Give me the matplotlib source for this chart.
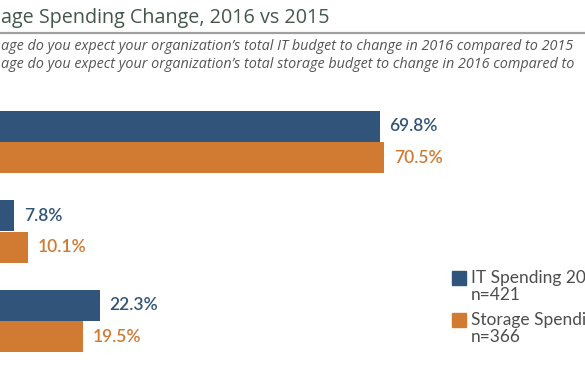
import matplotlib.pyplot as plt
from matplotlib.patches import Rectangle

# values (groups top to bottom)
groups = ['Increase', 'Stay the same', 'Decrease']
it_spend = [69.8, 7.8, 22.3]
storage_spend = [70.5, 10.1, 19.5]
# the reference is cropped on both sides, so only the visible text is kept
title = 'age Spending Change, 2016 vs 2015'
questions = ["age do you expect your organization\u2019s total IT budget to change in 2016 compared to 2015",
             "age do you expect your organization\u2019s total storage budget to change in 2016 compared to"]
legend_labels = ['IT Spending 20\nn=421', 'Storage Spendi\nn=366']

blue = '#31547a'
orange = '#d07a32'
W, H = 585, 376

fig = plt.figure(figsize=(W / 100, H / 100), dpi=100)

# axes: zero of the x scale sits just off the left edge of the picture
px_per_pct = 5.9
x0 = -32
ax = fig.add_axes([x0 / W, 0, 100 * px_per_pct / W, 1])
ax.set_xlim(0, 100)
# groups 89.5 px apart, first group centred at 142 px from top
step = 89.5
ax.set_ylim((H - 142) / step, -142 / step)
ax.axis('off')

h = 0.342
off = 0.176
ys = list(range(len(groups)))
ax.barh([y - off for y in ys], it_spend, height=h, color=blue)
ax.barh([y + off for y in ys], storage_spend, height=h, color=orange)

lab_font = {'family': 'Lato', 'size': 12.5, 'weight': 'semibold'}
for y, v in zip(ys, it_spend):
    ax.annotate(f'{v}%', (v, y - off), xytext=(7, 0), textcoords='offset points',
                va='center', ha='left', color=blue, **lab_font)
for y, v in zip(ys, storage_spend):
    ax.annotate(f'{v}%', (v, y + off), xytext=(7, 0), textcoords='offset points',
                va='center', ha='left', color=orange, **lab_font)

# title and question lines
fig.text(1 / W, 1 - 18 / H, title, fontsize=14.2, family='Open Sans', color='#44574b',
         va='center', ha='left')
fig.add_artist(plt.Line2D([0, 1], [1 - 33 / H, 1 - 33 / H], color='#a0a0a0', lw=1.6))
q_font = {'family': 'Open Sans', 'style': 'italic', 'size': 10.4, 'color': '#555555'}
for q, yq in zip(questions, [47, 65]):
    fig.text(1 / W, 1 - yq / H, q, va='center', ha='left', **q_font)

# legend
for col, lab, top in zip([blue, orange], legend_labels, [271, 313]):
    fig.add_artist(Rectangle((452 / W, 1 - (top + 14) / H), 14 / W, 14 / H,
                             color=col, transform=fig.transFigure))
    fig.text(471 / W, 1 - (top - 1) / H, lab, va='top', ha='left', color='#4d4d4d',
             family='Lato', fontsize=12.5, linespacing=1.05,
             transform=fig.transFigure)

fig.savefig('out.png', dpi=100)
